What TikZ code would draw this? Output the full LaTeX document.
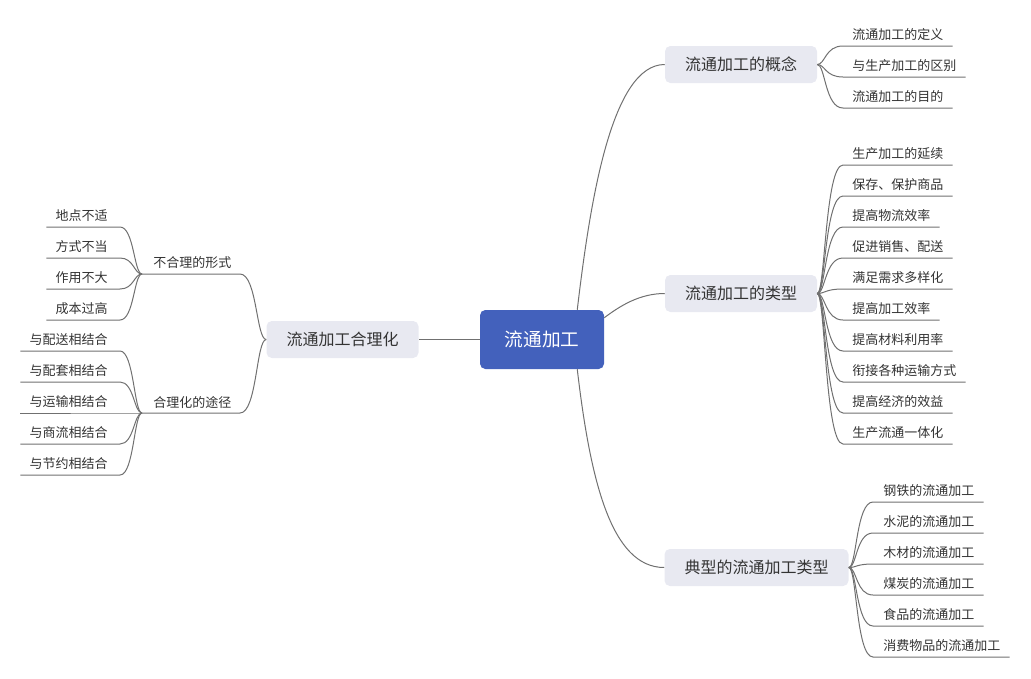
\documentclass[tikz,border=0pt]{standalone}
\usepackage{fontspec}
\setmainfont{Noto Sans CJK SC}
\usetikzlibrary{calc}
\definecolor{rootblue}{HTML}{4361BC}
\definecolor{topicfill}{HTML}{E8E9F1}
\definecolor{linegray}{HTML}{707070}
\definecolor{txt}{HTML}{333333}
\tikzset{
 rootnode/.style={fill=rootblue, rounded corners=4pt, minimum width=93pt, minimum height=44.25pt, text=white, font=\fontsize{14}{16}\selectfont, inner sep=0pt},
 topic/.style={fill=topicfill, rounded corners=4pt, minimum height=27.75pt, inner xsep=15pt, inner ysep=0pt, text=txt, font=\fontsize{12}{14}\selectfont},
 leaf/.style={inner sep=0pt, text=txt, font=\fontsize{9.75}{12}\selectfont},
 conn/.style={draw=linegray, line width=0.75pt},
}
\begin{document}
\begin{tikzpicture}[x=0.75pt,y=-0.75pt]
\useasboundingbox (0,0) rectangle (1031,678);
% main nodes
\node[rootnode] (root) at (542,339.5) {流通加工};
\node[topic] (t1) at (741,64.5) {流通加工的概念};
\node[topic] (t2) at (741,293.5) {流通加工的类型};
\node[topic] (t3) at (756.5,567.5) {典型的流通加工类型};
\node[topic] (t4) at (342.5,339.5) {流通加工合理化};
% main connectors
\draw[conn] ($(root.north east)+(-27,0)$) .. controls ($(root.north east)+(-14,-110)$) and ($(t1.west)+(-53,0)$) .. (t1.west);
\draw[conn] ($(root.north east)+(0,8)$) .. controls ($(root.north east)+(16,-4)$) and ($(t2.west)+(-25,0)$) .. (t2.west);
\draw[conn] ($(root.south east)+(-27,0)$) .. controls ($(root.south east)+(-14,111)$) and ($(t3.west)+(-53,0)$) .. (t3.west);
\draw[conn] (root.west) -- (t4.east);
% children of t1
\foreach \t [count=\i] in {流通加工的定义,与生产加工的区别,流通加工的目的}{
 \pgfmathsetmacro\uy{46+31*(\i-1)}
 \node[leaf,anchor=west] (a\i) at (852,{\uy-11}) {\t};
 \coordinate (ua\i) at (843,\uy);
 \draw[conn] (t1.east) .. controls ($(t1.east)+(8,0)$) and ($(ua\i)+(-18,0)$) .. (ua\i) -- ($(ua\i -| a\i.east)+(9,0)$);
}
% children of t2
\foreach \t [count=\i] in {生产加工的延续,保存、保护商品,提高物流效率,促进销售、配送,满足需求多样化,提高加工效率,提高材料利用率,衔接各种运输方式,提高经济的效益,生产流通一体化}{
 \pgfmathsetmacro\uy{165+31*(\i-1)}
 \node[leaf,anchor=west] (e\i) at (852,{\uy-11}) {\t};
 \coordinate (ue\i) at (843,\uy);
 \draw[conn] (t2.east) .. controls ($(t2.east)+(8,0)$) and ($(ue\i)+(-18,0)$) .. (ue\i) -- ($(ue\i -| e\i.east)+(9,0)$);
}
% children of t3
\foreach \t [count=\i] in {钢铁的流通加工,水泥的流通加工,木材的流通加工,煤炭的流通加工,食品的流通加工,消费物品的流通加工}{
 \pgfmathsetmacro\uy{502+31*(\i-1)}
 \node[leaf,anchor=west] (f\i) at (883,{\uy-11}) {\t};
 \coordinate (uf\i) at (873,\uy);
 \draw[conn] (t3.east) .. controls ($(t3.east)+(8,0)$) and ($(uf\i)+(-17,0)$) .. (uf\i) -- ($(uf\i -| f\i.east)+(9,0)$);
}
% children of t4
\node[leaf,anchor=west] (b1) at (153,263) {不合理的形式};
\coordinate (b1r) at (240,274); \coordinate (b1l) at (142,274);
\draw[conn] (t4.west) .. controls ($(t4.west)+(-10,0)$) and ($(b1r)+(17,0)$) .. (b1r) -- (b1l);
\node[leaf,anchor=west] (b2) at (153,402) {合理化的途径};
\coordinate (b2r) at (240,413); \coordinate (b2l) at (142,413);
\draw[conn] (t4.west) .. controls ($(t4.west)+(-10,0)$) and ($(b2r)+(17,0)$) .. (b2r) -- (b2l);
% grandchildren of b1
\foreach \t [count=\i] in {地点不适,方式不当,作用不大,成本过高}{
 \pgfmathsetmacro\uy{227+31*(\i-1)}
 \node[leaf,anchor=east] (c\i) at (108,{\uy-11}) {\t};
 \coordinate (uc\i) at (120,\uy);
 \draw[conn] (b1l) .. controls ($(b1l)+(-8,0)$) and ($(uc\i)+(14,0)$) .. (uc\i) -- ($(uc\i -| c\i.west)+(-9,0)$);
}
% grandchildren of b2
\foreach \t [count=\i] in {与配送相结合,与配套相结合,与运输相结合,与商流相结合,与节约相结合}{
 \pgfmathsetmacro\uy{351+31*(\i-1)}
 \node[leaf,anchor=east] (d\i) at (108,{\uy-11}) {\t};
 \coordinate (ud\i) at (120,\uy);
 \draw[conn] (b2l) .. controls ($(b2l)+(-8,0)$) and ($(ud\i)+(14,0)$) .. (ud\i) -- ($(ud\i -| d\i.west)+(-9,0)$);
}
\end{tikzpicture}
\end{document}
